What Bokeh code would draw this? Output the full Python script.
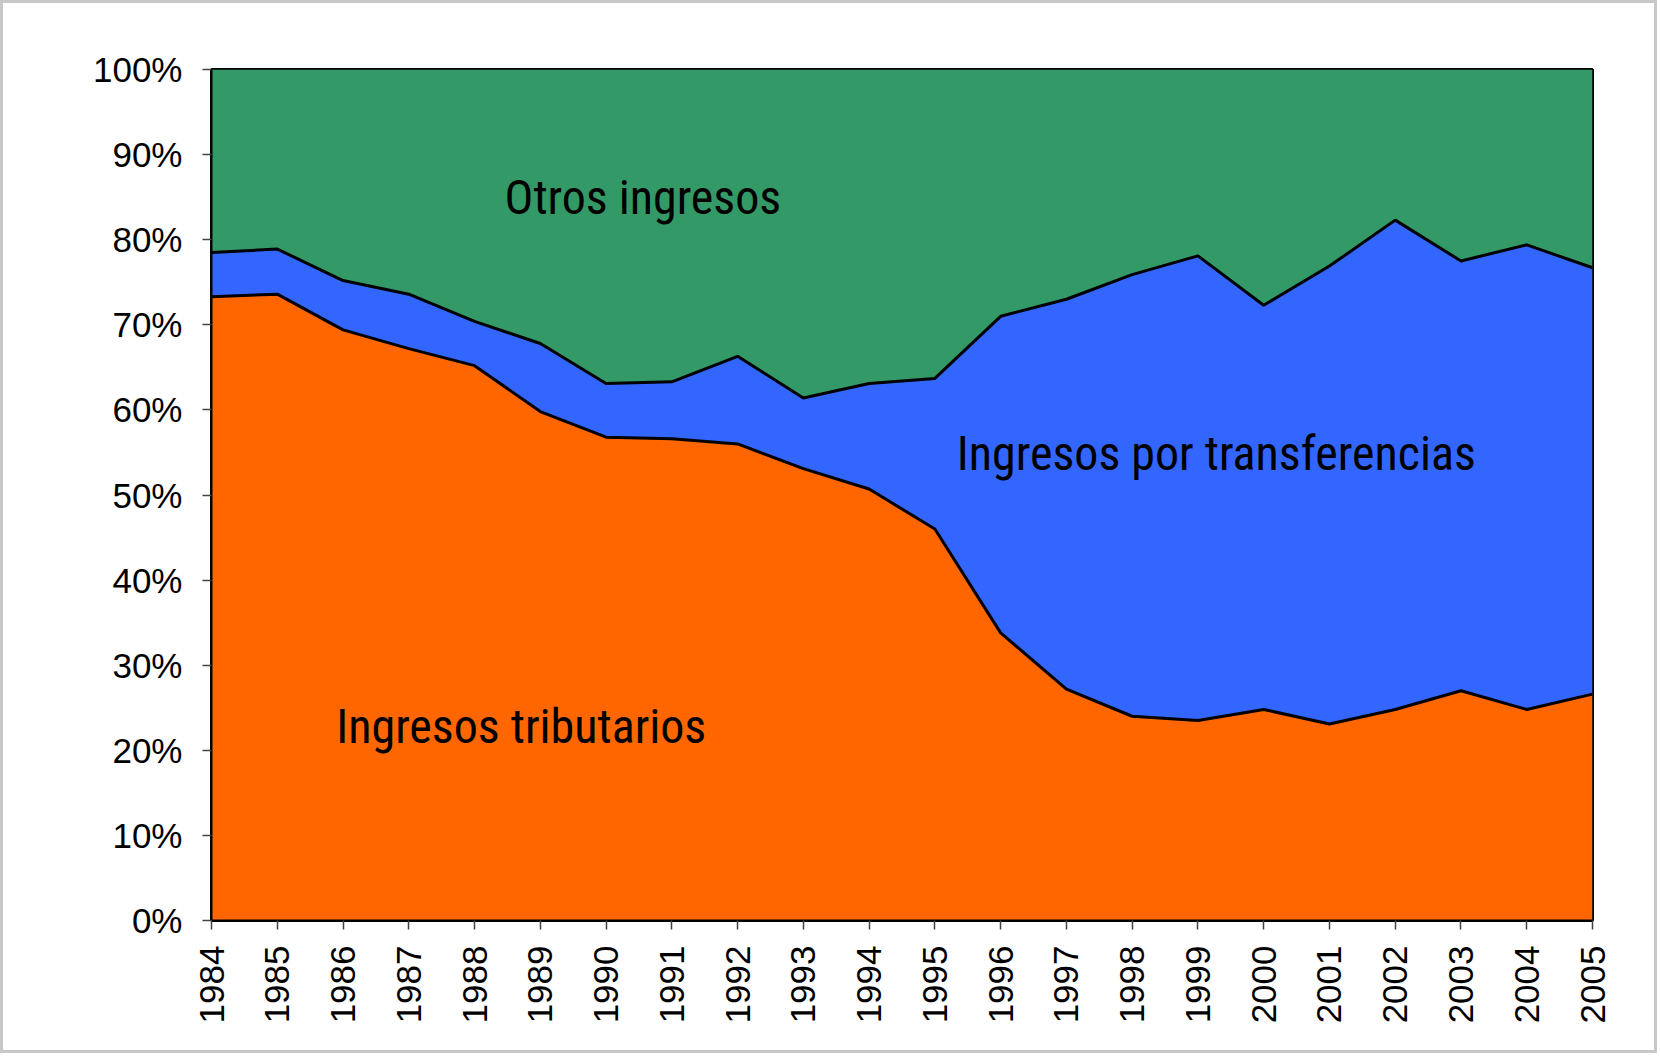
import math
from bokeh.plotting import figure
from bokeh.models import FixedTicker, PrintfTickFormatter, Label, Range1d
from bokeh.embed import file_html
from bokeh.resources import INLINE

years = list(range(1984, 2006))
# cumulative shares (%)
tributarios = [73.3, 73.6, 69.4, 67.2, 65.2, 59.8, 56.8, 56.6, 56.0, 53.1, 50.7,
               46.0, 33.8, 27.2, 24.0, 23.5, 24.8, 23.1, 24.8, 27.0, 24.8, 26.6]
transfer_top = [78.5, 78.9, 75.2, 73.6, 70.4, 67.8, 63.1, 63.3, 66.3, 61.4, 63.1,
                63.7, 71.0, 73.0, 75.9, 78.1, 72.3, 76.9, 82.3, 77.5, 79.4, 76.7]
total = [100.0] * len(years)
zeros = [0.0] * len(years)
series_names = ["Ingresos tributarios", "Ingresos por transferencias", "Otros ingresos"]
y_ticks = list(range(0, 101, 10))

ORANGE = "#FF6600"
BLUE = "#3366FF"
GREEN = "#339966"

p = figure(width=1651, height=1047, output_backend="svg", toolbar_location=None,
           x_range=Range1d(1984, 2005), y_range=Range1d(0, 100),
           frame_width=1381, frame_height=851,
           min_border_left=208, min_border_top=66, min_border_right=62, min_border_bottom=130)
p.styles = {"border": "3px solid #c8c8c8"}

p.varea(x=years, y1=zeros, y2=tributarios, fill_color=ORANGE)
p.varea(x=years, y1=tributarios, y2=transfer_top, fill_color=BLUE)
p.varea(x=years, y1=transfer_top, y2=total, fill_color=GREEN)
p.line(x=years, y=tributarios, line_color="black", line_width=3)
p.line(x=years, y=transfer_top, line_color="black", line_width=3)

p.grid.visible = False
p.background_fill_color = "white"
p.border_fill_color = "white"
p.outline_line_color = "black"
p.outline_line_width = 3
p.outline_line_alpha = 1

p.yaxis.ticker = FixedTicker(ticks=y_ticks)
p.yaxis.formatter = PrintfTickFormatter(format="%d%%")
p.xaxis.ticker = FixedTicker(ticks=years)
p.xaxis.major_label_orientation = math.pi / 2

for ax in (p.xaxis, p.yaxis):
    ax.axis_line_color = "black"
    ax.axis_line_width = 2
    ax.major_tick_line_color = "#444444"
    ax.major_tick_line_width = 1.5
    ax.major_tick_out = 9
    ax.major_tick_in = 0
    ax.minor_tick_line_color = None
    ax.major_label_text_font = "Liberation Sans"
    ax.major_label_text_font_size = "35px"
    ax.major_label_text_color = "black"
p.yaxis.major_label_standoff = 20
p.xaxis.major_label_standoff = 16

label_font = "'Liberation Sans Narrow', 'Roboto Condensed', 'DejaVu Sans Condensed', sans-serif"
label_pos = [(1990.56, 85.0), (1988.71, 22.8), (1999.28, 54.9)]
label_texts = [series_names[2], series_names[0], series_names[1]]
for (lx, ly), t in zip(label_pos, label_texts):
    p.add_layout(Label(x=lx, y=ly, text=t, text_align="center", text_baseline="middle",
                       text_font=label_font, text_font_size="48px", text_color="black"))

open("out.html", "w").write(file_html(p, INLINE))
